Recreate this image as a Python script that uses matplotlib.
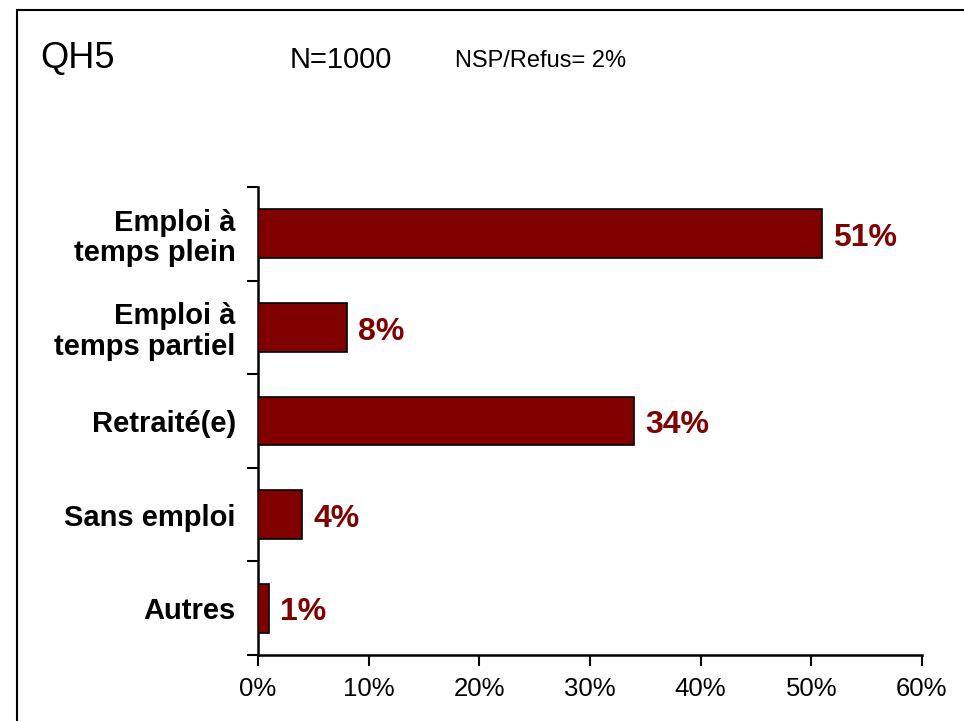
import matplotlib
matplotlib.use("Agg")
import matplotlib.pyplot as plt
from matplotlib.patches import Rectangle
import numpy as np

categories = ["Emploi à\ntemps plein", "Emploi à\ntemps partiel", "Retraité(e)", "Sans emploi", "Autres"]
values = [51, 8, 34, 4, 1]
xticks = [0, 10, 20, 30, 40, 50, 60]

bar_color = "#800000"
plt.rcParams["font.family"] = ["Liberation Sans", "DejaVu Sans"]

fig = plt.figure(figsize=(9.64, 7.21), dpi=100)
fig.patches.append(Rectangle((17 / 964, -0.05), 1.0, 1 - 10 / 721 + 0.05, transform=fig.transFigure,
                             fill=False, edgecolor="black", linewidth=1.5))

ax = fig.add_axes([258 / 964, 1 - 655 / 721, (922 - 258) / 964, (655 - 187) / 721])
y = np.arange(len(categories))
ax.barh(y, values, height=0.52, color=bar_color, edgecolor="black", linewidth=1.2, zorder=3)

for yi, v in zip(y, values):
    ax.annotate(f"{v}%", (v, yi), xytext=(8, -3), textcoords="offset points",
                ha="left", va="center", color=bar_color, fontsize=23, fontweight="bold")

ax.set_xlim(0, 60)
ax.set_ylim(len(categories) - 0.5, -0.5)
ax.set_xticks(xticks)
ax.set_xticklabels([f"{t}%" for t in xticks], fontsize=18.5)
ax.set_yticks(np.arange(-0.5, len(categories), 1.0))
ax.set_yticklabels([])
ax.set_yticks(y, minor=True)
ax.set_yticklabels(categories, minor=True, fontsize=21, fontweight="bold", linespacing=1.1)
ax.tick_params(axis="y", which="minor", length=0, pad=16)
ax.tick_params(axis="y", which="major", length=8, width=1.5, direction="out")
ax.tick_params(axis="x", length=8, width=1.5, direction="out", pad=8)

for s in ["top", "right"]:
    ax.spines[s].set_visible(False)
for s in ["left", "bottom"]:
    ax.spines[s].set_linewidth(1.8)

fig.text(40 / 964, 1 - 68 / 721, "QH5", fontsize=26, ha="left", va="baseline")
fig.text(290 / 964, 1 - 68 / 721, "N=1000", fontsize=21, ha="left", va="baseline")
fig.text(455 / 964, 1 - 67 / 721, "NSP/Refus= 2%", fontsize=17, ha="left", va="baseline")

fig.savefig("out.png", dpi=100, facecolor="white")
